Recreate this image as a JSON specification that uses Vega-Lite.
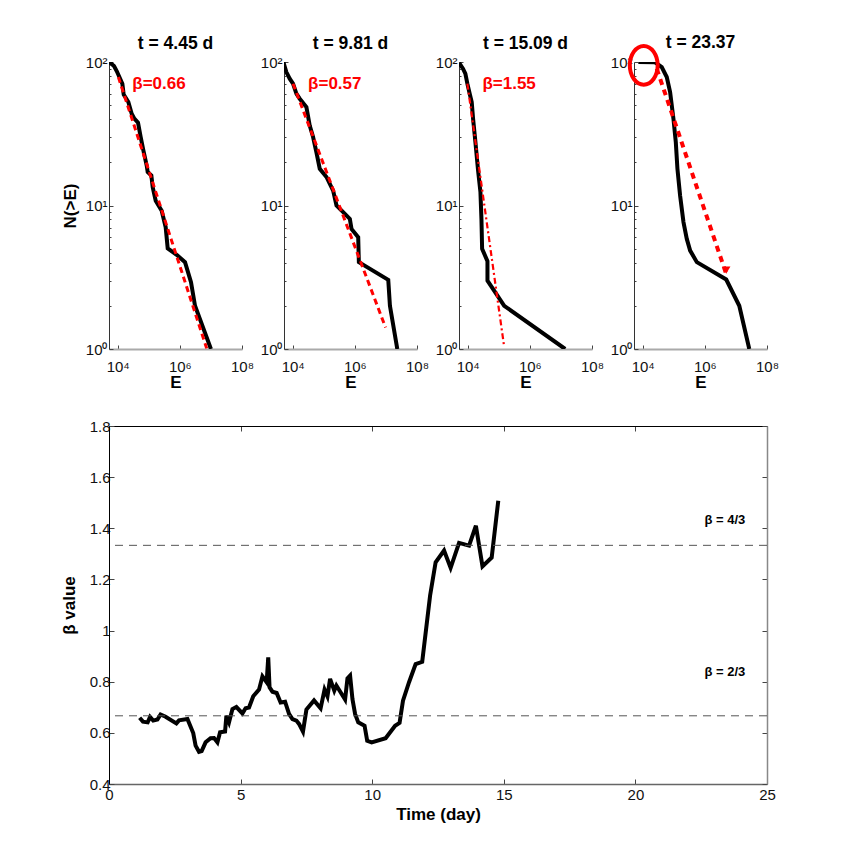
{
  "$schema": "https://vega.github.io/schema/vega-lite/v6.json",
  "background": "white",
  "padding": {"left": 60, "top": 34, "right": 10, "bottom": 10},
  "bounds": "flush",
  "spacing": 364,
  "config": {
    "font": "Liberation Sans",
    "view": {"stroke": null},
    "axis": {
      "grid": false,
      "domainColor": "#333333",
      "tickColor": "#444444",
      "labelColor": "#111111",
      "titleColor": "black",
      "labelFontSize": 15,
      "labelFont": "Liberation Sans",
      "titleFont": "Liberation Sans",
      "titleFontSize": 17,
      "labelOverlap": false,
      "labelFlush": false
    },
    "title": {"font": "Liberation Sans", "fontSize": 17.5, "fontWeight": "bold", "color": "black", "offset": 3}
  },
  "datasets": {
    "ccdf": [
      {"panel": 1, "E": 5000, "N": 100},
      {"panel": 1, "E": 5666, "N": 98.9},
      {"panel": 1, "E": 7620, "N": 93.8},
      {"panel": 1, "E": 9290, "N": 86.5},
      {"panel": 1, "E": 11320, "N": 78.6},
      {"panel": 1, "E": 14130, "N": 70.6},
      {"panel": 1, "E": 15600, "N": 59.2},
      {"panel": 1, "E": 22030, "N": 52.6},
      {"panel": 1, "E": 28200, "N": 43.6},
      {"panel": 1, "E": 34360, "N": 40.3},
      {"panel": 1, "E": 45080, "N": 37.8},
      {"panel": 1, "E": 54950, "N": 30},
      {"panel": 1, "E": 66990, "N": 24.2},
      {"panel": 1, "E": 85700, "N": 19},
      {"panel": 1, "E": 92260, "N": 17.1},
      {"panel": 1, "E": 121000, "N": 16.2},
      {"panel": 1, "E": 133700, "N": 13.4},
      {"panel": 1, "E": 167100, "N": 10.8},
      {"panel": 1, "E": 260600, "N": 9.2},
      {"panel": 1, "E": 349900, "N": 7.06},
      {"panel": 1, "E": 406400, "N": 5.03},
      {"panel": 1, "E": 790700, "N": 4.53},
      {"panel": 1, "E": 1466000, "N": 4.03},
      {"panel": 1, "E": 2286000, "N": 2.92},
      {"panel": 1, "E": 3076000, "N": 2},
      {"panel": 1, "E": 10000000, "N": 1},
      {"panel": 2, "E": 5000, "N": 100},
      {"panel": 2, "E": 6250, "N": 85.1},
      {"panel": 2, "E": 8000, "N": 76.5},
      {"panel": 2, "E": 10250, "N": 70.6},
      {"panel": 2, "E": 13130, "N": 60.1},
      {"panel": 2, "E": 16830, "N": 55.5},
      {"panel": 2, "E": 27600, "N": 48.5},
      {"panel": 2, "E": 35320, "N": 36.1},
      {"panel": 2, "E": 45290, "N": 30},
      {"panel": 2, "E": 57940, "N": 23.5},
      {"panel": 2, "E": 74300, "N": 18},
      {"panel": 2, "E": 121900, "N": 15.8},
      {"panel": 2, "E": 200000, "N": 12.7},
      {"panel": 2, "E": 256400, "N": 10},
      {"panel": 2, "E": 420700, "N": 9},
      {"panel": 2, "E": 690200, "N": 8.07},
      {"panel": 2, "E": 780000, "N": 6.87},
      {"panel": 2, "E": 1282000, "N": 6},
      {"panel": 2, "E": 1346000, "N": 4.03},
      {"panel": 2, "E": 11890000, "N": 3.03},
      {"panel": 2, "E": 13460000, "N": 2},
      {"panel": 2, "E": 23230000, "N": 1},
      {"panel": 3, "E": 5250, "N": 99},
      {"panel": 3, "E": 7060, "N": 89.8},
      {"panel": 3, "E": 8410, "N": 83},
      {"panel": 3, "E": 9750, "N": 70.6},
      {"panel": 3, "E": 11600, "N": 60.1},
      {"panel": 3, "E": 13470, "N": 52.6},
      {"panel": 3, "E": 14890, "N": 40.3},
      {"panel": 3, "E": 17700, "N": 27.7},
      {"panel": 3, "E": 21580, "N": 17.5},
      {"panel": 3, "E": 25700, "N": 12.4},
      {"panel": 3, "E": 27670, "N": 8.07},
      {"panel": 3, "E": 29100, "N": 4.99},
      {"panel": 3, "E": 43250, "N": 4.09},
      {"panel": 3, "E": 43250, "N": 3},
      {"panel": 3, "E": 149600, "N": 2},
      {"panel": 3, "E": 13710000, "N": 1},
      {"panel": 4, "E": 7240, "N": 100},
      {"panel": 4, "E": 25000, "N": 99.5},
      {"panel": 4, "E": 41020, "N": 92.3},
      {"panel": 4, "E": 59430, "N": 78.6},
      {"panel": 4, "E": 76200, "N": 61.8},
      {"panel": 4, "E": 97500, "N": 40.3},
      {"panel": 4, "E": 116100, "N": 27.7},
      {"panel": 4, "E": 131200, "N": 18},
      {"panel": 4, "E": 160000, "N": 11.7},
      {"panel": 4, "E": 205100, "N": 7.66},
      {"panel": 4, "E": 262400, "N": 5.85},
      {"panel": 4, "E": 336500, "N": 4.85},
      {"panel": 4, "E": 552100, "N": 4.03},
      {"panel": 4, "E": 4875000, "N": 3.05},
      {"panel": 4, "E": 12820000, "N": 2},
      {"panel": 4, "E": 26900000, "N": 1}
    ],
    "fit": [
      {"panel": 1, "E": 10500, "N": 78.6},
      {"panel": 1, "E": 7300000, "N": 1.01},
      {"panel": 2, "E": 10250, "N": 70.6},
      {"panel": 2, "E": 9750000, "N": 1.41},
      {"panel": 3, "E": 9750, "N": 70.6},
      {"panel": 3, "E": 149600, "N": 1.03},
      {"panel": 4, "E": 28300, "N": 89.8},
      {"panel": 4, "E": 4875000, "N": 3.33}
    ],
    "betas": [
      {"panel": 1, "E": 29500, "N": 65, "label": "β=0.66"},
      {"panel": 2, "E": 31300, "N": 65, "label": "β=0.57"},
      {"panel": 3, "E": 29800, "N": 65, "label": "β=1.55"}
    ],
    "marker": [
      {"E": 10800, "N": 94.8}
    ],
    "arrow": [
      {"E": 4875000, "N": 3.55}
    ],
    "beta_series": [
      {"day": 1.165, "beta": 0.659},
      {"day": 1.29, "beta": 0.644},
      {"day": 1.47, "beta": 0.641},
      {"day": 1.56, "beta": 0.662},
      {"day": 1.68, "beta": 0.648},
      {"day": 1.84, "beta": 0.652},
      {"day": 1.96, "beta": 0.672},
      {"day": 2.15, "beta": 0.663},
      {"day": 2.56, "beta": 0.637},
      {"day": 2.66, "beta": 0.649},
      {"day": 2.98, "beta": 0.654},
      {"day": 3.2, "beta": 0.599},
      {"day": 3.29, "beta": 0.55},
      {"day": 3.42, "beta": 0.526},
      {"day": 3.52, "beta": 0.529},
      {"day": 3.67, "beta": 0.563},
      {"day": 3.86, "beta": 0.579},
      {"day": 3.99, "beta": 0.58},
      {"day": 4.12, "beta": 0.563},
      {"day": 4.22, "beta": 0.602},
      {"day": 4.41, "beta": 0.605},
      {"day": 4.46, "beta": 0.667},
      {"day": 4.56, "beta": 0.641},
      {"day": 4.69, "beta": 0.693},
      {"day": 4.84, "beta": 0.701},
      {"day": 5.07, "beta": 0.676},
      {"day": 5.19, "beta": 0.696},
      {"day": 5.32, "beta": 0.699},
      {"day": 5.48, "beta": 0.743},
      {"day": 5.7, "beta": 0.769},
      {"day": 5.83, "beta": 0.821},
      {"day": 5.99, "beta": 0.798},
      {"day": 6.05, "beta": 0.895},
      {"day": 6.1, "beta": 0.778},
      {"day": 6.21, "beta": 0.761},
      {"day": 6.37, "beta": 0.756},
      {"day": 6.52, "beta": 0.719},
      {"day": 6.69, "beta": 0.722},
      {"day": 6.84, "beta": 0.674},
      {"day": 6.97, "beta": 0.654},
      {"day": 7.12, "beta": 0.648},
      {"day": 7.22, "beta": 0.635},
      {"day": 7.37, "beta": 0.605},
      {"day": 7.5, "beta": 0.691},
      {"day": 7.79, "beta": 0.727},
      {"day": 8.04, "beta": 0.696},
      {"day": 8.19, "beta": 0.769},
      {"day": 8.3, "beta": 0.743},
      {"day": 8.4, "beta": 0.811},
      {"day": 8.56, "beta": 0.765},
      {"day": 8.64, "beta": 0.785},
      {"day": 8.97, "beta": 0.73},
      {"day": 9.06, "beta": 0.813},
      {"day": 9.16, "beta": 0.824},
      {"day": 9.25, "beta": 0.732},
      {"day": 9.35, "beta": 0.674},
      {"day": 9.47, "beta": 0.641},
      {"day": 9.71, "beta": 0.628},
      {"day": 9.81, "beta": 0.569},
      {"day": 9.98, "beta": 0.563},
      {"day": 10.51, "beta": 0.579},
      {"day": 10.87, "beta": 0.628},
      {"day": 11.04, "beta": 0.639},
      {"day": 11.17, "beta": 0.726},
      {"day": 11.4, "beta": 0.798},
      {"day": 11.65, "beta": 0.869},
      {"day": 11.9, "beta": 0.878},
      {"day": 12.2, "beta": 1.137},
      {"day": 12.41, "beta": 1.267},
      {"day": 12.73, "beta": 1.313},
      {"day": 12.98, "beta": 1.245},
      {"day": 13.3, "beta": 1.343},
      {"day": 13.68, "beta": 1.332},
      {"day": 13.94, "beta": 1.41},
      {"day": 14.19, "beta": 1.251},
      {"day": 14.54, "beta": 1.286},
      {"day": 14.79, "beta": 1.508}
    ],
    "refs": [
      {"beta": 1.3333, "label": "β = 4/3", "day": 23.4, "labelBeta": 1.432},
      {"beta": 0.6667, "label": "β = 2/3", "day": 23.4, "labelBeta": 0.839}
    ]
  },
  "vconcat": [
    {
      "bounds": "flush",
      "spacing": 42,
      "hconcat": [
        {
          "width": 133,
          "height": 287,
          "title": "t = 4.45 d",
          "layer": [
            {
              "data": {"name": "ccdf"},
              "transform": [{"filter": "datum.panel == 1"}],
              "mark": {"type": "line", "color": "black", "strokeWidth": 4, "clip": true},
              "encoding": {
                "x": {"field": "E", "type": "quantitative", "scale": {"type": "log", "domain": [5248, 100000000], "nice": false},
                  "axis": {"title": "E", "titleFontWeight": "bold", "values": [10000, 1000000, 100000000], "labelExpr": "datum.value == 10000 ? '10⁴' : datum.value == 1000000 ? '10⁶' : '10⁸'", "tickSize": -4, "domainColor": "#aaaaaa", "domainWidth": 2, "labelPadding": 14, "titlePadding": 0}},
                "y": {"field": "N", "type": "quantitative", "scale": {"type": "log", "domain": [1, 100], "nice": false},
                  "axis": {"title": "N(>E)", "titleFontWeight": "bold", "values": [1, 2, 3, 4, 5, 6, 7, 8, 9, 10, 20, 30, 40, 50, 60, 70, 80, 90, 100], "labelExpr": "datum.value == 1 ? '10⁰' : datum.value == 10 ? '10¹' : datum.value == 100 ? '10²' : ''", "tickSize": {"condition": {"test": "indexof([1, 10, 100], datum.value) >= 0", "value": -4}, "value": -2}, "labelPadding": 6, "titlePadding": 6}}
              }
            },
            {
              "data": {"name": "fit"},
              "transform": [{"filter": "datum.panel == 1"}],
              "mark": {"type": "line", "color": "#ff0000", "strokeWidth": 3, "strokeDash": [6, 4]},
              "encoding": {"x": {"field": "E", "type": "quantitative"}, "y": {"field": "N", "type": "quantitative"}}
            },
            {
              "data": {"name": "betas"},
              "transform": [{"filter": "datum.panel == 1"}],
              "mark": {"type": "text", "color": "#ff0000", "align": "left", "baseline": "alphabetic", "fontSize": 17, "fontWeight": "bold"},
              "encoding": {"x": {"field": "E", "type": "quantitative"}, "y": {"field": "N", "type": "quantitative"}, "text": {"field": "label"}}
            }
          ]
        },
        {
          "width": 133,
          "height": 287,
          "title": "t = 9.81 d",
          "layer": [
            {
              "data": {"name": "ccdf"},
              "transform": [{"filter": "datum.panel == 2"}],
              "mark": {"type": "line", "color": "black", "strokeWidth": 4, "clip": true},
              "encoding": {
                "x": {"field": "E", "type": "quantitative", "scale": {"type": "log", "domain": [5248, 100000000], "nice": false},
                  "axis": {"title": "E", "titleFontWeight": "bold", "values": [10000, 1000000, 100000000], "labelExpr": "datum.value == 10000 ? '10⁴' : datum.value == 1000000 ? '10⁶' : '10⁸'", "tickSize": -4, "domainColor": "#aaaaaa", "domainWidth": 2, "labelPadding": 14, "titlePadding": 0}},
                "y": {"field": "N", "type": "quantitative", "scale": {"type": "log", "domain": [1, 100], "nice": false},
                  "axis": {"title": null, "values": [1, 2, 3, 4, 5, 6, 7, 8, 9, 10, 20, 30, 40, 50, 60, 70, 80, 90, 100], "labelExpr": "datum.value == 1 ? '10⁰' : datum.value == 10 ? '10¹' : datum.value == 100 ? '10²' : ''", "tickSize": {"condition": {"test": "indexof([1, 10, 100], datum.value) >= 0", "value": -4}, "value": -2}, "labelPadding": 6}}
              }
            },
            {
              "data": {"name": "fit"},
              "transform": [{"filter": "datum.panel == 2"}],
              "mark": {"type": "line", "color": "#ff0000", "strokeWidth": 3, "strokeDash": [6, 4]},
              "encoding": {"x": {"field": "E", "type": "quantitative"}, "y": {"field": "N", "type": "quantitative"}}
            },
            {
              "data": {"name": "betas"},
              "transform": [{"filter": "datum.panel == 2"}],
              "mark": {"type": "text", "color": "#ff0000", "align": "left", "baseline": "alphabetic", "fontSize": 17, "fontWeight": "bold"},
              "encoding": {"x": {"field": "E", "type": "quantitative"}, "y": {"field": "N", "type": "quantitative"}, "text": {"field": "label"}}
            }
          ]
        },
        {
          "width": 133,
          "height": 287,
          "title": "t = 15.09 d",
          "layer": [
            {
              "data": {"name": "ccdf"},
              "transform": [{"filter": "datum.panel == 3"}],
              "mark": {"type": "line", "color": "black", "strokeWidth": 4, "clip": true},
              "encoding": {
                "x": {"field": "E", "type": "quantitative", "scale": {"type": "log", "domain": [5248, 100000000], "nice": false},
                  "axis": {"title": "E", "titleFontWeight": "bold", "values": [10000, 1000000, 100000000], "labelExpr": "datum.value == 10000 ? '10⁴' : datum.value == 1000000 ? '10⁶' : '10⁸'", "tickSize": -4, "domainColor": "#aaaaaa", "domainWidth": 2, "labelPadding": 14, "titlePadding": 0}},
                "y": {"field": "N", "type": "quantitative", "scale": {"type": "log", "domain": [1, 100], "nice": false},
                  "axis": {"title": null, "values": [1, 2, 3, 4, 5, 6, 7, 8, 9, 10, 20, 30, 40, 50, 60, 70, 80, 90, 100], "labelExpr": "datum.value == 1 ? '10⁰' : datum.value == 10 ? '10¹' : datum.value == 100 ? '10²' : ''", "tickSize": {"condition": {"test": "indexof([1, 10, 100], datum.value) >= 0", "value": -4}, "value": -2}, "labelPadding": 6}}
              }
            },
            {
              "data": {"name": "fit"},
              "transform": [{"filter": "datum.panel == 3"}],
              "mark": {"type": "line", "color": "#ff0000", "strokeWidth": 2.2, "strokeDash": [6, 3, 2, 3]},
              "encoding": {"x": {"field": "E", "type": "quantitative"}, "y": {"field": "N", "type": "quantitative"}}
            },
            {
              "data": {"name": "betas"},
              "transform": [{"filter": "datum.panel == 3"}],
              "mark": {"type": "text", "color": "#ff0000", "align": "left", "baseline": "alphabetic", "fontSize": 17, "fontWeight": "bold"},
              "encoding": {"x": {"field": "E", "type": "quantitative"}, "y": {"field": "N", "type": "quantitative"}, "text": {"field": "label"}}
            }
          ]
        },
        {
          "width": 133,
          "height": 287,
          "title": {"text": "t = 23.37", "offset": -14},
          "layer": [
            {
              "data": {"name": "ccdf"},
              "transform": [{"filter": "datum.panel == 4"}],
              "mark": {"type": "line", "color": "black", "strokeWidth": 4, "clip": true},
              "encoding": {
                "x": {"field": "E", "type": "quantitative", "scale": {"type": "log", "domain": [5248, 100000000], "nice": false},
                  "axis": {"title": "E", "titleFontWeight": "bold", "values": [10000, 1000000, 100000000], "labelExpr": "datum.value == 10000 ? '10⁴' : datum.value == 1000000 ? '10⁶' : '10⁸'", "tickSize": -4, "domainColor": "#aaaaaa", "domainWidth": 2, "labelPadding": 14, "titlePadding": 0}},
                "y": {"field": "N", "type": "quantitative", "scale": {"type": "log", "domain": [1, 100], "nice": false},
                  "axis": {"title": null, "values": [1, 2, 3, 4, 5, 6, 7, 8, 9, 10, 20, 30, 40, 50, 60, 70, 80, 90, 100], "labelExpr": "datum.value == 1 ? '10⁰' : datum.value == 10 ? '10¹' : datum.value == 100 ? '10²' : ''", "tickSize": {"condition": {"test": "indexof([1, 10, 100], datum.value) >= 0", "value": -4}, "value": -2}, "labelPadding": 6}}
              }
            },
            {
              "data": {"name": "fit"},
              "transform": [{"filter": "datum.panel == 4"}],
              "mark": {"type": "line", "color": "#ff0000", "strokeWidth": 4, "strokeDash": [6, 5]},
              "encoding": {"x": {"field": "E", "type": "quantitative"}, "y": {"field": "N", "type": "quantitative"}}
            },
            {
              "data": {"name": "arrow"},
              "mark": {"type": "point", "shape": "triangle-down", "filled": true, "color": "#ff0000", "size": 70, "opacity": 1},
              "encoding": {"x": {"field": "E", "type": "quantitative"}, "y": {"field": "N", "type": "quantitative"}}
            },
            {
              "data": {"name": "marker"},
              "mark": {"type": "point", "shape": "M -0.72 0 A 0.72 1 0 1 0 0.72 0 A 0.72 1 0 1 0 -0.72 0 Z", "filled": false, "stroke": "#ff0000", "strokeWidth": 4, "size": 1500, "opacity": 1},
              "encoding": {"x": {"field": "E", "type": "quantitative"}, "y": {"field": "N", "type": "quantitative"}}
            }
          ]
        }
      ]
    },
    {
      "width": 658,
      "height": 358,
      "resolve": {"axis": {"x": "independent", "y": "independent"}},
      "layer": [
        {
          "data": {"name": "beta_series"},
          "mark": {"type": "line", "color": "black", "strokeWidth": 4},
          "encoding": {
            "x": {"field": "day", "type": "quantitative", "scale": {"domain": [0, 25], "nice": false},
              "axis": {"title": "Time (day)", "titleFontWeight": "bold", "values": [0, 5, 10, 15, 20, 25], "format": "d", "tickSize": -5, "domainColor": "#666666", "domainWidth": 1.5, "labelPadding": 8, "titlePadding": 4}},
            "y": {"field": "beta", "type": "quantitative", "scale": {"domain": [0.4, 1.8], "nice": false},
              "axis": {"title": "β value", "titleFontWeight": "bold", "values": [0.4, 0.6, 0.8, 1, 1.2, 1.4, 1.6, 1.8], "labelExpr": "datum.value == 1 ? '1' : format(datum.value, '.1f')", "tickSize": -5, "domainColor": "black", "labelPadding": 4, "titlePadding": 11}}
          }
        },
        {
          "data": {"name": "refs"},
          "mark": {"type": "rule", "color": "#555555", "strokeWidth": 1, "strokeDash": [8, 6]},
          "encoding": {
            "y": {"field": "beta", "type": "quantitative",
              "axis": {"orient": "right", "title": null, "labels": false, "values": [0.4, 0.6, 0.8, 1, 1.2, 1.4, 1.6, 1.8], "tickSize": -5, "domainColor": "#888888", "domainWidth": 1.5}}
          }
        },
        {
          "data": {"name": "refs"},
          "mark": {"type": "text", "color": "black", "fontSize": 13, "fontWeight": "bold"},
          "encoding": {
            "x": {"field": "day", "type": "quantitative",
              "axis": {"orient": "top", "title": null, "labels": false, "values": [0, 5, 10, 15, 20, 25], "tickSize": -5, "domainColor": "black"}},
            "y": {"field": "labelBeta", "type": "quantitative", "axis": null},
            "text": {"field": "label"}
          }
        }
      ]
    }
  ]
}
